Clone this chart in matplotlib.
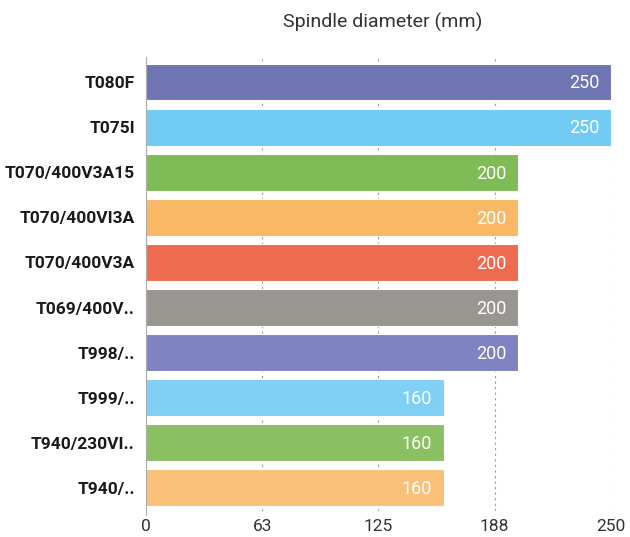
import matplotlib.pyplot as plt

# ---------- data ----------
models = ['T080F', 'T075I', 'T070/400V3A15', 'T070/400VI3A', 'T070/400V3A',
          'T069/400V..', 'T998/..', 'T999/..', 'T940/230VI..', 'T940/..']
diameters = [250, 250, 200, 200, 200, 200, 200, 160, 160, 160]
colors = ['#6F75B3', '#72CBF3', '#7FBC55', '#F9B865', '#EE6B4F',
          '#999691', '#8083C2', '#80CFF4', '#8BC062', '#F9C079']
tick_pos = [0, 62.5, 125, 187.5, 250]
tick_labels = ['0', '63', '125', '188', '250']

plt.rcParams['font.family'] = ['Roboto', 'DejaVu Sans']

fig = plt.figure(figsize=(6.3, 5.37), dpi=100)
ax = fig.add_axes([0.2317, 0.0493, 0.738, 0.84])

ypos = list(range(len(models)))
ax.barh(ypos, diameters, height=0.82, color=colors,
        edgecolor='white', linewidth=0.8, zorder=2)

for y, v in zip(ypos, diameters):
    ax.text(v - 6, y + 0.03, str(v), ha='right', va='center', color='white',
            fontsize=13, zorder=3)

ax.set_xlim(0, 250)
ax.set_ylim(len(models) - 0.5, -0.5)
ax.set_yticks(ypos)
ax.set_yticklabels(models, fontsize=12.5, fontweight='bold', color='#1a1a1a')
ax.set_xticks(tick_pos)
ax.set_xticklabels(tick_labels, fontsize=12.5, color='#333333')
ax.tick_params(axis='y', length=0, pad=8)
ax.tick_params(axis='x', length=0, pad=6)

ax.grid(axis='x', linestyle=(0, (2, 3)), color='#999999', linewidth=0.8, zorder=0)
ax.set_axisbelow(True)
for s in ['top', 'right', 'bottom']:
    ax.spines[s].set_visible(False)
ax.spines['left'].set_color('#aaaaaa')
ax.spines['left'].set_bounds(len(models) - 0.4, -0.55)

fig.text(0.607, 0.958, 'Spindle diameter (mm)', ha='center', va='center',
         fontsize=14, color='#333333')

fig.savefig('out.png', dpi=100)
